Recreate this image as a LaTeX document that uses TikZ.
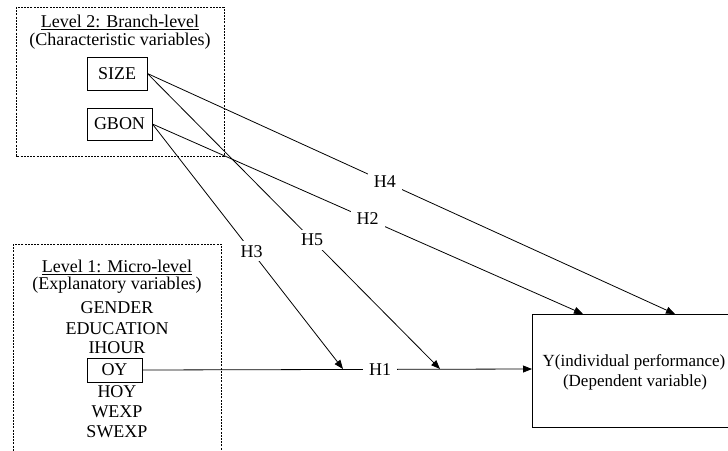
\documentclass[tikz,border=0pt]{standalone}
\usepackage{fontspec}
\setmainfont{Liberation Serif}
\usetikzlibrary{arrows.meta}
\begin{document}
\begin{tikzpicture}[x=1pt,y=-1pt,
  every node/.style={font=\fontsize{18}{20}\selectfont, inner sep=1pt},
  grp/.style={draw, line width=0.7pt, dash pattern=on 2pt off 1.2pt},
  var/.style={draw, line width=0.8pt, minimum height=33pt, inner sep=0pt},
  conn/.style={line width=0.8pt},
  arr/.style={conn, -{Triangle[length=9pt,width=7pt]}},
  hlab/.style={fill=white, inner xsep=6pt, inner ysep=4pt},
  dep/.style={font=\fontsize{17}{20}\selectfont}]
\useasboundingbox (0,0) rectangle (728,450);
\clip (0,0) rectangle (728,450);
% level 2 group
\draw[grp] (16,7) rectangle (224,156);
\node (l2t) at (120,22) {\underline{Level 2: Branch-level}};
\node (l2s) at (120,41) {(Characteristic variables)};
\node[var, minimum width=60pt] (size) at (117,73.5) {SIZE};
\node[var, minimum width=65pt, minimum height=32pt] (gbon) at (119.5,124) {GBON};
% level 1 group
\draw[grp] (13,244) rectangle (221,470);
\node (l1t) at (117,267) {\underline{Level 1: Micro-level}};
\node (l1s) at (117,285) {(Explanatory variables)};
\node (gender) at (117,308) {GENDER};
\node (edu) at (117,329) {EDUCATION};
\node (ihour) at (117,348) {IHOUR};
\node[var, minimum width=55pt, minimum height=24pt] (oy) at (114.5,370) {OY};
\node (hoy) at (117,392) {HOY};
\node (wexp) at (117,412) {WEXP};
\node (swexp) at (117,432) {SWEXP};
% dependent
\draw[line width=0.8pt] (532,314) rectangle (760,427);
\coordinate (yl) at (532,369);
\node[dep] (y1) at (634,362) {Y(individual performance)};
\node[dep] (y2) at (635,382) {(Dependent variable)};
% targets
\coordinate (t3) at (343,369);
\coordinate (t5) at (440,369);
\coordinate (t2) at (583,314);
\coordinate (t4) at (675,314);
% connectors
\draw[arr] (oy.east) -- node[hlab, pos=0.61] (h1) {H1} (yl);
\draw[arr] (gbon.east) -- node[hlab, pos=0.52] (h3) {H3} (t3);
\draw[arr] (size.east) -- node[hlab, pos=0.563] (h5) {H5} (t5);
\draw[arr] (gbon.east) -- node[hlab, pos=0.5] (h2) {H2} (t2);
\draw[arr] (size.east) -- node[hlab, pos=0.45] (h4) {H4} (t4);
\end{tikzpicture}
\end{document}
